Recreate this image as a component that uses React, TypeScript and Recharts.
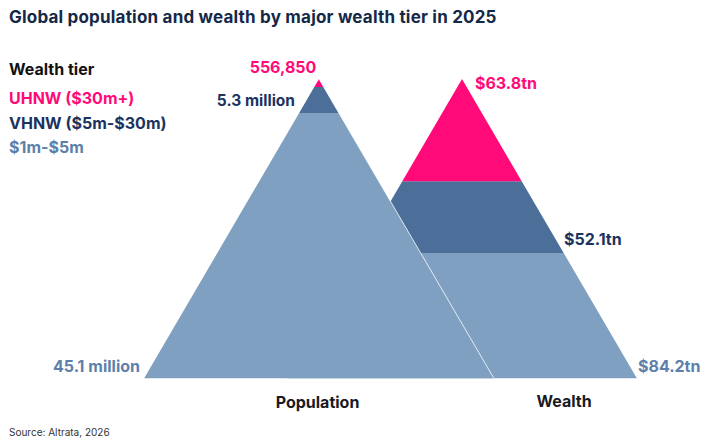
import React from "react"
import { ComposedChart, Area, Line, XAxis, YAxis } from "recharts"

// tiers, top to bottom
const tiers = ["UHNW ($30m+)", "VHNW ($5m-$30m)", "$1m-$5m"]
const populationLabels = ["556,850", "5.3 million", "45.1 million"]
const wealthLabels = ["$63.8tn", "$52.1tn", "$84.2tn"]
// bottom of each tier's band, % of pyramid height
const populationBottoms = [97.3, 88.5, 0]
const wealthBottoms = [65.9, 41.9, 0]

const W = 714
const H = 444
const POP_CENTER = 319
const WEALTH_CENTER = 462
const HALF = 175

const TIER_COLORS = ["#ff0a78", "#4b6f98", "#7fa0c0"]
const PINK = "#ff0a78"
const NAVY = "#1b3360"
const LIGHT = "#5d80aa"
const FONT = "Inter, 'DejaVu Sans', sans-serif"

type Pt = { x: number; v: [number, number] }

function band(center: number, lo: number, hi: number): Pt[] {
  const wLo = HALF * (1 - lo / 100)
  const wHi = HALF * (1 - hi / 100)
  return [
    { x: center - wLo, v: [lo, lo] },
    { x: center - wHi, v: [lo, hi] },
    { x: center + wHi, v: [lo, hi] },
    { x: center + wLo, v: [lo, lo] },
  ]
}

function pyramid(center: number, bottoms: number[]) {
  return bottoms.map((lo, i) => ({
    tier: tiers[i],
    color: TIER_COLORS[i],
    data: band(center, lo, i === 0 ? 100 : bottoms[i - 1]),
  }))
}

const wealthBands = pyramid(WEALTH_CENTER, wealthBottoms)
const popBands = pyramid(POP_CENTER, populationBottoms)
const popEdge = [
  { x: POP_CENTER + HALF, e: 0 },
  { x: POP_CENTER, e: 100 },
]

export default function App() {
  // draw bottom tier first so upper tiers sit on top
  const order = [2, 1, 0]
  return (
    <div style={{ position: "absolute", left: 0, top: 0, width: W, height: H, background: "#fff", fontFamily: FONT }}>
      <ComposedChart width={W} height={H} margin={{ top: 79, right: 0, bottom: 65.5, left: 0 }}>
        <XAxis type="number" dataKey="x" domain={[0, W]} allowDataOverflow hide />
        <YAxis type="number" domain={[0, 100]} allowDataOverflow hide width={0} />
        {order.map((i) => (
          <Area
            key={"w" + i}
            data={wealthBands[i].data}
            dataKey="v"
            type="linear"
            fill={wealthBands[i].color}
            fillOpacity={1}
            stroke="none"
            isAnimationActive={false}
          />
        ))}
        {order.map((i) => (
          <Area
            key={"p" + i}
            data={popBands[i].data}
            dataKey="v"
            type="linear"
            fill={popBands[i].color}
            fillOpacity={1}
            stroke="none"
            isAnimationActive={false}
          />
        ))}
        <Line data={popEdge} dataKey="e" type="linear" stroke="#ffffff" strokeWidth={0.8} dot={false} isAnimationActive={false} />
      </ComposedChart>

      <svg width={W} height={H} style={{ position: "absolute", left: 0, top: 0, pointerEvents: "none" }} fontFamily={FONT} fontWeight={700}>
        <text x={9} y={23} fontSize={17} fill="#142848" letterSpacing={0.2}>
          Global population and wealth by major wealth tier in 2025
        </text>

        <text x={9} y={75} fontSize={16} fill="#111">Wealth tier</text>
        <text x={9} y={104} fontSize={16} fill={PINK}>{tiers[0]}</text>
        <text x={9} y={129} fontSize={16} fill={NAVY}>{tiers[1]}</text>
        <text x={9} y={153} fontSize={16} fill={LIGHT}>{tiers[2]}</text>

        <text x={283} y={73} fontSize={16} fill={PINK} textAnchor="middle">{populationLabels[0]}</text>
        <text x={295} y={106} fontSize={15.5} fill={NAVY} textAnchor="end">{populationLabels[1]}</text>
        <text x={140} y={372} fontSize={16} fill={LIGHT} textAnchor="end">{populationLabels[2]}</text>

        <text x={475} y={89} fontSize={16} fill={PINK}>{wealthLabels[0]}</text>
        <text x={564} y={245} fontSize={16} fill={NAVY}>{wealthLabels[1]}</text>
        <text x={638} y={372} fontSize={16} fill={LIGHT}>{wealthLabels[2]}</text>

        <text x={317.5} y={408} fontSize={16} fill="#1a1a24" textAnchor="middle">Population</text>
        <text x={564} y={407} fontSize={16} fill="#1a1a24" textAnchor="middle">Wealth</text>

        <text x={9} y={436} fontSize={10} fontWeight={400} fill="#333">Source: Altrata, 2026</text>
      </svg>
    </div>
  )
}
